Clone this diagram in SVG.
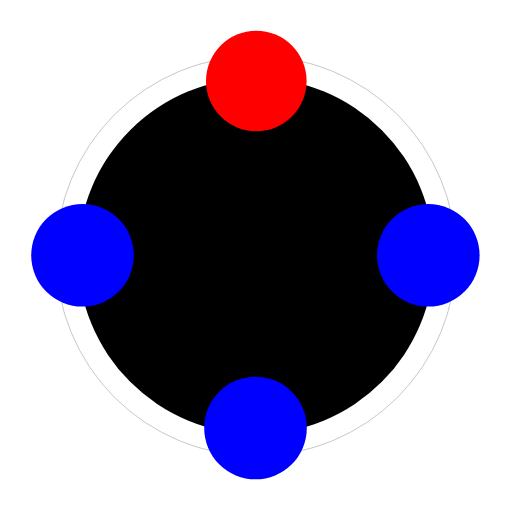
<svg xmlns="http://www.w3.org/2000/svg" width="512" height="512" viewBox="0 0 512 512">
<style>
.node{stroke:none}
.blue{fill:#0000ff}
.red{fill:#ff0000}
</style>
<rect width="512" height="512" fill="#ffffff"/>
<g id="ring"><circle cx="256" cy="256" r="200" fill="none" stroke="#c8c8c8" stroke-width="1"/></g>
<g id="hub"><circle cx="256" cy="256" r="178" fill="#000000"/></g>
<g id="connectors"></g>
<g id="node-top"><circle class="node red" cx="256.3" cy="81" r="50.3"/></g>
<g id="node-left"><circle class="node blue" cx="82.5" cy="255.3" r="51.3"/></g>
<g id="node-right"><circle class="node blue" cx="428.3" cy="255.3" r="51.3"/></g>
<g id="node-bottom"><circle class="node blue" cx="255.5" cy="428" r="51.3"/></g>
</svg>
